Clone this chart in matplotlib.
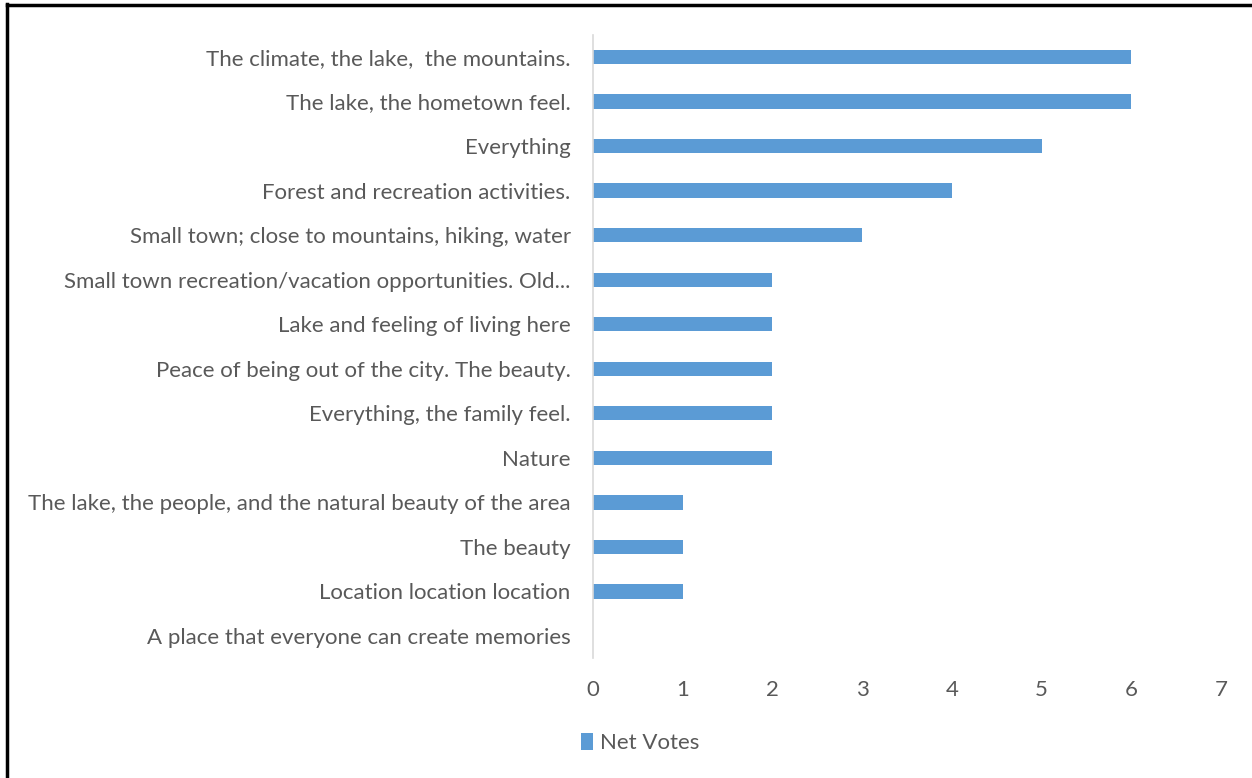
import matplotlib.pyplot as plt
from matplotlib.lines import Line2D

# Data (top to bottom as shown)
labels = [
    "The climate, the lake,  the mountains.",
    "The lake, the hometown feel.",
    "Everything",
    "Forest and recreation activities.",
    "Small town; close to mountains, hiking, water",
    "Small town recreation/vacation opportunities. Old...",
    "Lake and feeling of living here",
    "Peace of being out of the city. The beauty.",
    "Everything, the family feel.",
    "Nature",
    "The lake, the people, and the natural beauty of the area",
    "The beauty",
    "Location location location",
    "A place that everyone can create memories",
]
net_votes = [6, 6, 5, 4, 3, 2, 2, 2, 2, 2, 1, 1, 1, 0]
x_ticks = [0, 1, 2, 3, 4, 5, 6, 7]

bar_color = "#5B9BD5"
text_color = "#595959"
plt.rcParams["font.family"] = ["Lato", "DejaVu Sans"]

fig = plt.figure(figsize=(12.52, 7.78), dpi=100)
ax = fig.add_axes([0.4736, 0.1539, 0.5016, 0.8015])

pos = list(range(len(labels)))[::-1]
ax.barh(pos, net_votes, height=0.32, color=bar_color, label="Net Votes")

ax.set_xlim(0, 7)
ax.set_ylim(-0.5, len(labels) - 0.5)
ax.set_xticks(x_ticks)
ax.set_yticks(pos)
ax.set_yticklabels(labels)
ax.tick_params(axis="both", length=0, labelsize=16, colors=text_color)
ax.tick_params(axis="x", pad=16)
ax.tick_params(axis="y", pad=16)

for s in ["top", "right", "bottom"]:
    ax.spines[s].set_visible(False)
ax.spines["left"].set_color("#d9d9d9")
ax.spines["left"].set_linewidth(1.2)

leg = fig.legend(loc="center", bbox_to_anchor=(640 / 1252, 1 - 743 / 778),
                 frameon=False, fontsize=16, handlelength=0.55, handleheight=0.8,
                 handletextpad=0.3)
for t in leg.get_texts():
    t.set_color(text_color)

# outer border (top and left visible)
fig.add_artist(Line2D([7 / 1252, 7 / 1252], [0, 1 - 4 / 778], color="black", lw=2.5))
fig.add_artist(Line2D([7 / 1252, 1], [1 - 5 / 778, 1 - 5 / 778], color="black", lw=2.5))

fig.savefig("out.png", dpi=100)
